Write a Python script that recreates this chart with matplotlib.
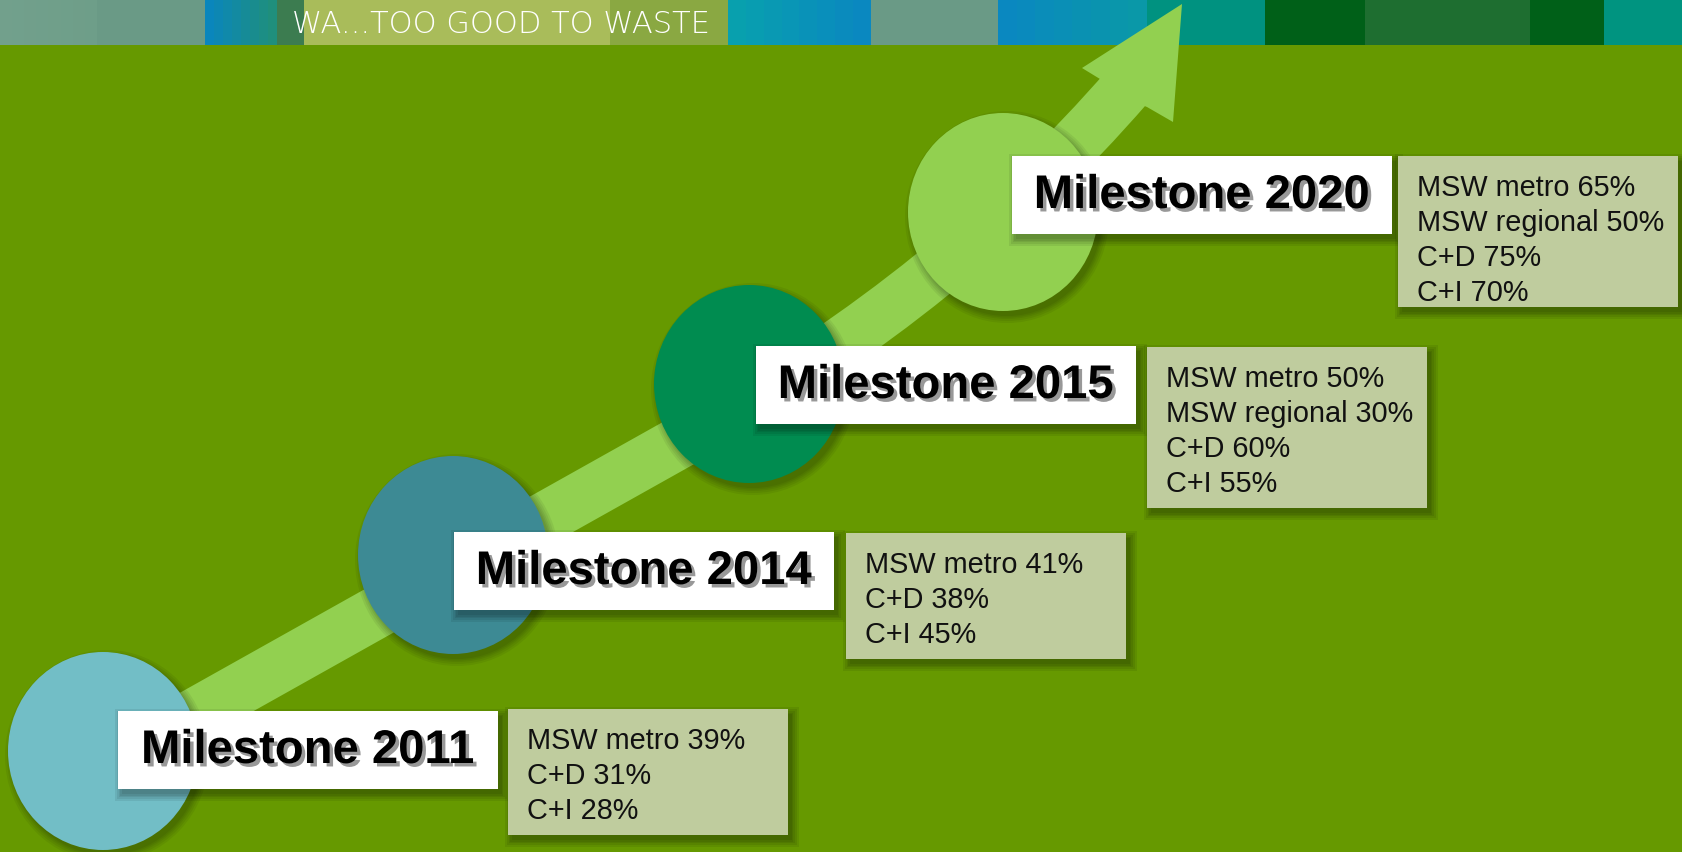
import numpy as np
import matplotlib.pyplot as plt
from matplotlib.patches import Ellipse, Rectangle, Polygon, PathPatch
from matplotlib.path import Path
import matplotlib.patheffects as pe
from matplotlib.colors import to_rgb

# ---------------------------- data ------------------------------------------
years = [2011, 2014, 2015, 2020]
msw_metro = [39, 41, 50, 65]
msw_regional = [None, None, 30, 50]
c_and_d = [31, 38, 60, 75]
c_and_i = [28, 45, 55, 70]

banner_text = 'WA...TOO GOOD TO WASTE'

# ---------------------------- layout (pixels) -------------------------------
W, H = 1682, 853
bg = '#669900'
arrow_col = '#92d050'
circle_cols = ['#72bec6', '#3d8a94', '#008c50', '#92d050']
circle_xy = [(103, 752), (453, 556), (749, 385), (1003, 213)]
label_xy = [(118, 712), (454, 533), (756, 347), (1012, 157)]
info_xy = [(508, 710), (846, 534), (1147, 348), (1398, 157)]
info_h = [126, 126, 161, 151]

# banner strips: x0, x1, colour left, colour right
strips = [(0, 97, '#72a08c', '#6e9e89'), (97, 205, '#6a9a86', '#6a9a86'),
          (205, 277, '#0a86bc', '#1f8f7c'), (277, 304, '#3c7c50', '#3c7c50'),
          (304, 610, '#a9bc5a', '#a9bc5a'), (610, 728, '#8aa842', '#8aa842'),
          (728, 871, '#08a0ae', '#0a88c0'), (871, 998, '#6a9a86', '#6a9a86'),
          (998, 1147, '#0a88c0', '#0a98a8'), (1147, 1265, '#009280', '#009280'),
          (1265, 1365, '#006018', '#006018'), (1365, 1530, '#1e6e30', '#1e6e30'),
          (1530, 1604, '#006018', '#006018'), (1604, 1682, '#009480', '#009480')]

fig = plt.figure(figsize=(W / 100, H / 100), dpi=100)
ax = fig.add_axes([0, 0, 1, 1])
ax.set_xlim(0, W)
ax.set_ylim(H, 0)
ax.axis('off')
ax.add_patch(Rectangle((0, 0), W, H, color=bg, zorder=0))

# banner
for x0, x1, c0, c1 in strips:
    c0, c1 = np.array(to_rgb(c0)), np.array(to_rgb(c1))
    n = 8
    for k in range(n):
        f = k / (n - 1)
        xa = x0 + (x1 - x0) * k / n
        ax.add_patch(Rectangle((xa, 0), (x1 - x0) / n + 0.5, 46,
                               color=tuple(c0 * (1 - f) + c1 * f), lw=0, zorder=1))
ax.text(292, 24, banner_text, color='white', fontsize=22, family='DejaVu Sans',
        fontweight='light', va='center', ha='left', zorder=2)


def shadow_rect(x, y, w, h, dx=4, dy=5, z=5):
    for g in [7, 5, 3, 1.5, 0]:
        ax.add_patch(Rectangle((x + dx - g, y + dy - g), w + 2 * g, h + 2 * g,
                               color='black', alpha=0.07, lw=0, zorder=z))


def shadow_ellipse(cx, cy, rx, ry, dx=4, dy=5, z=3):
    for g in [7, 5, 3, 1.5, 0]:
        ax.add_patch(Ellipse((cx + dx, cy + dy), 2 * (rx + g), 2 * (ry + g),
                             color='black', alpha=0.06, lw=0, zorder=z))


# arrow shaft
shaft = Path([(40, 802), (700, 432), (950, 292), (1128, 87)],
             [Path.MOVETO, Path.LINETO, Path.CURVE3, Path.CURVE3])
ax.add_patch(PathPatch(shaft, fill=False, edgecolor=arrow_col, lw=52 * 0.72,
                       capstyle='butt', joinstyle='round', zorder=2))
head = Polygon([(1182, 5), (1173, 123), (1147, 108), (1122, 98), (1100, 80), (1082, 69)],
               closed=True, color=arrow_col, lw=0, zorder=8)
ax.add_patch(head)

# circles
for (cx, cy), col in zip(circle_xy, circle_cols):
    shadow_ellipse(cx, cy, 95, 99)
    ax.add_patch(Ellipse((cx, cy), 190, 198, color=col, lw=0, zorder=4))

# labels and target boxes
for i, yr in enumerate(years):
    lx, ly = label_xy[i]
    shadow_rect(lx, ly, 380, 78)
    ax.add_patch(Rectangle((lx, ly), 380, 78, color='white', lw=0, zorder=6))
    ax.text(lx + 190, ly + 40, f'Milestone {yr}', fontsize=34, fontweight='bold',
            family='Liberation Sans', ha='center', va='center', color='black', zorder=7,
            path_effects=[pe.withSimplePatchShadow(offset=(2.5, -2.5),
                                                   shadow_rgbFace='#444444', alpha=0.55)])

    lines = [f'MSW metro {msw_metro[i]}%']
    if msw_regional[i] is not None:
        lines.append(f'MSW regional {msw_regional[i]}%')
    lines.append(f'C+D {c_and_d[i]}%')
    lines.append(f'C+I {c_and_i[i]}%')

    bx, by = info_xy[i]
    shadow_rect(bx, by, 280, info_h[i])
    ax.add_patch(Rectangle((bx, by), 280, info_h[i], color='#bfcc9e', lw=0, zorder=6))
    for j, s in enumerate(lines):
        ax.text(bx + 19, by + 31 + j * 35, s, fontsize=20.8, family='Liberation Sans',
                ha='left', va='center', color='#111111', zorder=7)

fig.savefig('out.png', dpi=100)
